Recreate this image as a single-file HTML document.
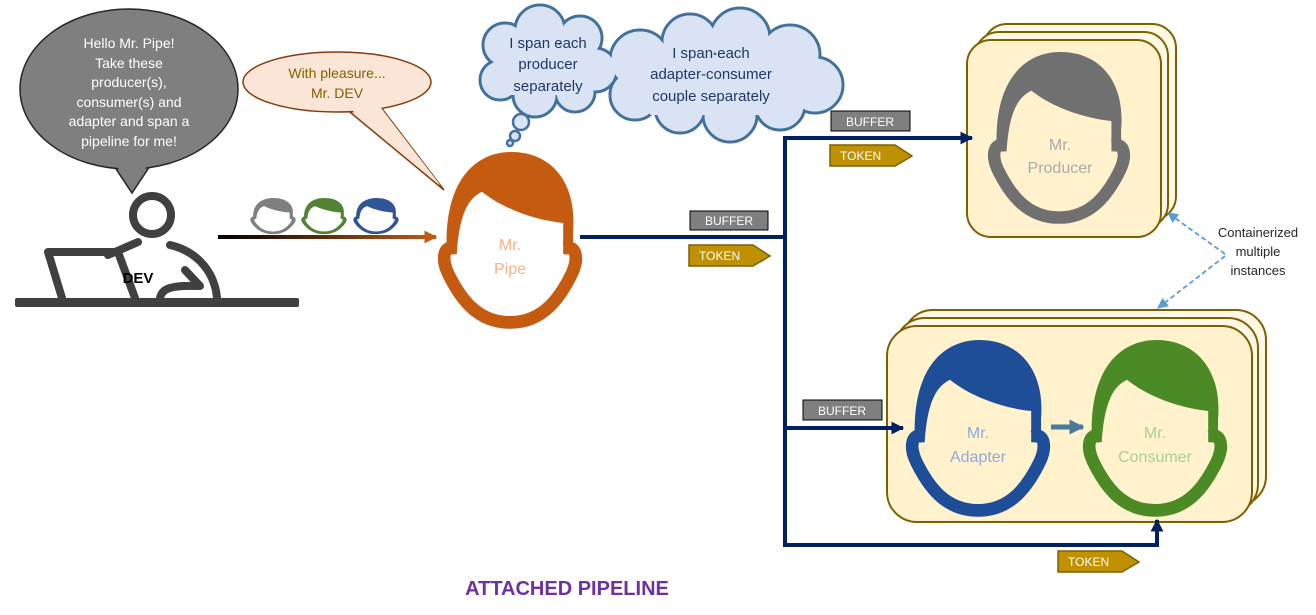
<!DOCTYPE html>
<html><head><meta charset="utf-8"><style>
html,body{margin:0;padding:0;background:#fff}
svg{display:block;font-family:"Liberation Sans",sans-serif}
</style></head><body>
<svg width="1316" height="615" viewBox="0 0 1316 615" xmlns="http://www.w3.org/2000/svg">
<defs>
<g id="head">
<path d="M5,72 C2,22 24,0 51,0 C80,0 98,22 95,56 L95,72 L88,72 L88,50 C68,48 45,40 30,28 C22,32 14,40 12,72 Z" fill="currentColor"/>
<path d="M11,68 C2,65 1,76 6,86 C14,102 26,120 50,120 C74,120 86,102 94,86 C99,76 98,65 89,68" fill="none" stroke="currentColor" stroke-width="9" stroke-linejoin="round"/>
</g>
<linearGradient id="gr" gradientUnits="userSpaceOnUse" x1="218" y1="0" x2="436" y2="0"><stop offset="0" stop-color="#000"/><stop offset="1" stop-color="#c55a11"/></linearGradient>
<marker id="an" viewBox="0 0 10 10" refX="9" refY="5" markerWidth="3.2" markerHeight="3.2" orient="auto"><path d="M0,0 L10,5 L0,10 Z" fill="#002060"/></marker>
<marker id="ao" viewBox="0 0 10 10" refX="9" refY="5" markerWidth="3.2" markerHeight="3.2" orient="auto"><path d="M0,0 L10,5 L0,10 Z" fill="#c55a11"/></marker>
<marker id="ab" viewBox="0 0 10 10" refX="9" refY="5" markerWidth="6" markerHeight="6" orient="auto"><path d="M0,0 L10,5 L0,10 Z" fill="#5b9bd5"/></marker>
<marker id="at" viewBox="0 0 10 10" refX="9" refY="5" markerWidth="3" markerHeight="3" orient="auto"><path d="M0,0 L10,5 L0,10 Z" fill="#4a7a9c"/></marker>
</defs>

<!-- grey speech bubble -->
<path d="M110,160 L132,193 L154,160 Z" fill="#7f7f7f" stroke="#262626" stroke-width="1.5"/>
<ellipse cx="129" cy="89" rx="109" ry="80" fill="#7f7f7f" stroke="#262626" stroke-width="1.5"/>
<path d="M112,158 L132,190 L152,158 Z" fill="#7f7f7f"/>
<g fill="#fff" font-size="14" text-anchor="middle">
<text x="129" y="48">Hello Mr. Pipe!</text>
<text x="129" y="68">Take these</text>
<text x="129" y="87">producer(s),</text>
<text x="129" y="107">consumer(s) and</text>
<text x="129" y="126">adapter and span a</text>
<text x="129" y="146">pipeline for me!</text>
</g>

<!-- peach bubble -->
<path d="M345,108 L444,190 L380,106 Z" fill="#fbe5d6" stroke="#843c0c" stroke-width="1.5"/>
<ellipse cx="337" cy="82" rx="94" ry="30" fill="#fbe5d6" stroke="#843c0c" stroke-width="1.5"/>
<path d="M347,106 L441,186 L378,104 Z" fill="#fbe5d6"/>
<g fill="#806000" font-size="14" text-anchor="middle">
<text x="337" y="78">With pleasure...</text>
<text x="337" y="98">Mr. DEV</text>
</g>

<!-- clouds -->
<g stroke="#41719c" stroke-width="3" fill="#dae3f3">
<circle cx="640" cy="60" r="30"/><circle cx="690" cy="42" r="28"/><circle cx="740" cy="38" r="30"/><circle cx="790" cy="55" r="30"/><circle cx="815" cy="85" r="28"/><circle cx="780" cy="105" r="25"/><circle cx="730" cy="115" r="27"/><circle cx="680" cy="108" r="25"/><circle cx="635" cy="95" r="25"/>
<circle cx="505" cy="45" r="22"/><circle cx="540" cy="30" r="25"/><circle cx="580" cy="38" r="22"/><circle cx="595" cy="70" r="22"/><circle cx="575" cy="92" r="20"/><circle cx="535" cy="95" r="22"/><circle cx="500" cy="80" r="20"/>
</g>
<g fill="#dae3f3">
<circle cx="640" cy="60" r="28.5"/><circle cx="690" cy="42" r="26.5"/><circle cx="740" cy="38" r="28.5"/><circle cx="790" cy="55" r="28.5"/><circle cx="815" cy="85" r="26.5"/><circle cx="780" cy="105" r="23.5"/><circle cx="730" cy="115" r="25.5"/><circle cx="680" cy="108" r="23.5"/><circle cx="635" cy="95" r="23.5"/>
<rect x="650" y="55" width="145" height="60"/>
<circle cx="505" cy="45" r="20.5"/><circle cx="540" cy="30" r="23.5"/><circle cx="580" cy="38" r="20.5"/><circle cx="595" cy="70" r="20.5"/><circle cx="575" cy="92" r="18.5"/><circle cx="535" cy="95" r="20.5"/><circle cx="500" cy="80" r="18.5"/>
<rect x="510" y="45" width="75" height="50"/>
</g>
<g fill="#dae3f3" stroke="#41719c" stroke-width="2.5">
<circle cx="521" cy="122" r="8"/><circle cx="515" cy="136" r="5"/><circle cx="510" cy="143" r="3"/>
</g>
<g fill="#1f3864" font-size="15" text-anchor="middle">
<text x="548" y="48">I span each</text>
<text x="548" y="69">producer</text>
<text x="548" y="91">separately</text>
<text x="711" y="58">I span each</text>
<text x="711" y="79">adapter-consumer</text>
<text x="711" y="101">couple separately</text>
</g>

<!-- DEV figure -->
<g stroke="#404040" stroke-width="8" fill="none" stroke-linecap="round" stroke-linejoin="round">
<circle cx="152" cy="215" r="19"/>
<path d="M48,252 L118,252 L135,298 M48,252 L62,298"/>
<path d="M108,255 L138,242"/>
<path d="M170,245 C200,252 215,275 217,298"/>
<path d="M160,298 C162,288 172,285 200,286 M185,270 L200,286"/>
</g>
<rect x="15" y="298" width="284" height="9" fill="#404040" rx="2"/>
<text x="138" y="283" font-size="15" font-weight="bold" fill="#000" text-anchor="middle">DEV</text>

<!-- small heads -->
<use href="#head" transform="translate(251,198) scale(0.44,0.29)" color="#7f7f7f"/>
<use href="#head" transform="translate(302,198) scale(0.44,0.29)" color="#538135"/>
<use href="#head" transform="translate(354,198) scale(0.44,0.29)" color="#2f5597"/>

<!-- gradient arrow -->
<line x1="218" y1="237" x2="436" y2="237" stroke="url(#gr)" stroke-width="4" marker-end="url(#ao)"/>

<!-- Pipe head -->
<use href="#head" transform="translate(440,152) scale(1.4,1.42)" color="#c55a11"/>
<g fill="#f4b183" font-size="16" text-anchor="middle"><text x="510" y="250">Mr.</text><text x="510" y="274">Pipe</text></g>

<!-- navy lines -->
<g stroke="#002060" stroke-width="4" fill="none">
<line x1="580" y1="237" x2="787" y2="237"/>
<polyline points="975,138 785,138 785,545 1157,545 1157,518"/>
</g>

<!-- producer stack -->
<g fill="#fff2cc" stroke="#7f6000" stroke-width="2">
<rect x="983" y="24" width="193" height="196" rx="24" fill="#fff8e5"/>
<rect x="975" y="32" width="193" height="196" rx="24" fill="#fff8e5"/>
<rect x="967" y="40" width="194" height="197" rx="24"/>
</g>
<line x1="785" y1="138" x2="972" y2="138" stroke="#002060" stroke-width="4" marker-end="url(#an)"/>
<use href="#head" transform="translate(990,52) scale(1.38,1.38)" color="#707070"/>
<g fill="#aaaaaa" font-size="16" text-anchor="middle"><text x="1060" y="150">Mr.</text><text x="1060" y="173">Producer</text></g>

<!-- bottom stack -->
<g fill="#fff2cc" stroke="#7f6000" stroke-width="2">
<rect x="903" y="310" width="363" height="196" rx="30" fill="#fff8e5"/>
<rect x="895" y="318" width="363" height="196" rx="30" fill="#fff8e5"/>
<rect x="887" y="326" width="365" height="196" rx="30"/>
</g>
<line x1="785" y1="428" x2="903" y2="428" stroke="#002060" stroke-width="4" marker-end="url(#an)"/>
<line x1="1157" y1="545" x2="1157" y2="520" stroke="#002060" stroke-width="4" marker-end="url(#an)"/>
<use href="#head" transform="translate(908,340) scale(1.4,1.42)" color="#1f4e99"/>
<use href="#head" transform="translate(1085,340) scale(1.4,1.42)" color="#4b8a25"/>
<line x1="1051" y1="427" x2="1083" y2="427" stroke="#4a7a9c" stroke-width="5" marker-end="url(#at)"/>
<g font-size="16" text-anchor="middle">
<text x="978" y="438" fill="#8faadc">Mr.</text><text x="978" y="462" fill="#8faadc">Adapter</text>
<text x="1155" y="438" fill="#a9d18e">Mr.</text><text x="1155" y="462" fill="#a9d18e">Consumer</text>
</g>

<!-- dashed -->
<g stroke="#5b9bd5" stroke-width="1.8" stroke-dasharray="5,3" fill="none">
<line x1="1225" y1="254" x2="1168" y2="213" marker-end="url(#ab)"/>
<line x1="1225" y1="256" x2="1158" y2="308" marker-end="url(#ab)"/>
</g>
<g fill="#262626" font-size="13" text-anchor="middle">
<text x="1258" y="237">Containerized</text><text x="1258" y="256">multiple</text><text x="1258" y="275">instances</text>
</g>

<!-- BUFFER labels -->
<g font-size="12" fill="#fff" text-anchor="middle">
<rect x="690" y="211" width="78" height="19" fill="#7f7f7f" stroke="#000" stroke-width="1"/><text x="729" y="225">BUFFER</text>
<rect x="831" y="111" width="79" height="20" fill="#7f7f7f" stroke="#000" stroke-width="1"/><text x="870" y="126">BUFFER</text>
<rect x="803" y="400" width="79" height="20" fill="#7f7f7f" stroke="#000" stroke-width="1"/><text x="842" y="415">BUFFER</text>
</g>
<!-- TOKEN labels -->
<g font-size="12" fill="#fff">
<path d="M689,245 L753,245 L770,256 L753,266 L689,266 Z" fill="#bf9000" stroke="#7f6000" stroke-width="1.5"/><text x="699" y="260">TOKEN</text>
<path d="M830,145 L895,145 L912,156 L895,166 L830,166 Z" fill="#bf9000" stroke="#7f6000" stroke-width="1.5"/><text x="840" y="160">TOKEN</text>
<path d="M1058,551 L1122,551 L1139,562 L1122,572 L1058,572 Z" fill="#bf9000" stroke="#7f6000" stroke-width="1.5"/><text x="1068" y="566">TOKEN</text>
</g>

<text x="567" y="595" font-size="20" font-weight="bold" fill="#7030a0" text-anchor="middle">ATTACHED PIPELINE</text>
</svg>
</body></html>
